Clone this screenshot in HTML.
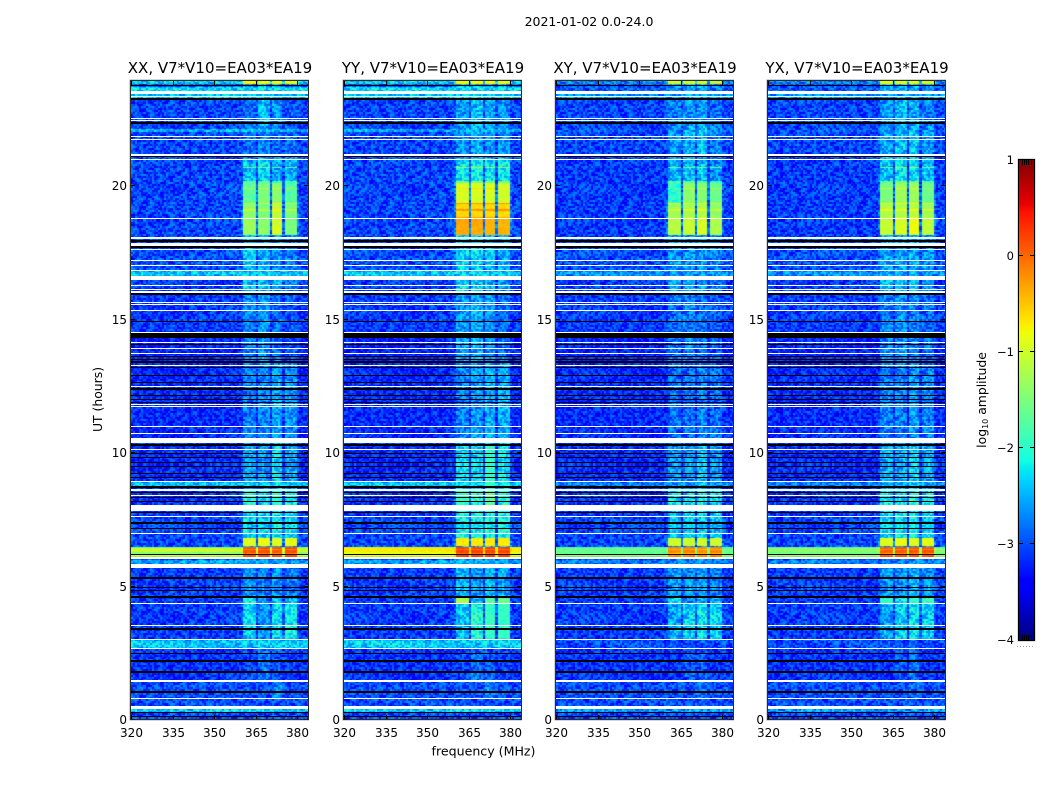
<!DOCTYPE html>
<html lang="en">
<head>
<meta charset="utf-8">
<title>2021-01-02 0.0-24.0</title>
<style>
html,body{margin:0;padding:0;background:#fff;}
#figure{position:relative;width:1050px;height:800px;overflow:hidden;background:#fff;font-family:"DejaVu Sans","Liberation Sans",sans-serif;}
#figure canvas{position:absolute;display:block;}
#overlay{position:absolute;left:0;top:0;}
#overlay text{font-family:"DejaVu Sans","Liberation Sans",sans-serif;fill:#000;}
</style>
</head>
<body>
<div id="figure">
<svg id="overlay" width="1050" height="800" viewBox="0 0 1050 800" xmlns="http://www.w3.org/2000/svg">
  <text x="589" y="26" text-anchor="middle" font-size="12.5">2021-01-02 0.0-24.0</text>
  <text x="483.5" y="755.5" text-anchor="middle" font-size="12.6">frequency (MHz)</text>
  <text transform="translate(102,399.5) rotate(-90)" text-anchor="middle" font-size="12.4">UT (hours)</text>
  <text transform="translate(986,400) rotate(-90)" text-anchor="middle" font-size="12.4">log<tspan font-size="8" dy="2">10</tspan><tspan dy="-2"> amplitude</tspan></text>
</svg>
</div>
<script>
// ---- Chart data ----
const panelNames = ['XX', 'YY', 'XY', 'YX'];
const panelTitles = ['XX, V7*V10=EA03*EA19', 'YY, V7*V10=EA03*EA19', 'XY, V7*V10=EA03*EA19', 'YX, V7*V10=EA03*EA19'];
const xTicks = [320, 335, 350, 365, 380];
const yTicks = [0, 5, 10, 15, 20];
const colorbarTicks = [1, 0, -1, -2, -3, -4];

// Background level (log10 amplitude) by time band, hours.
const bandStart = [0, 0.27, 0.37, 1.4, 2.66, 2.96, 5.66, 5.81, 5.95, 6.07, 6.17, 6.27, 6.40, 6.46, 7.6, 8.73, 8.88, 10.34, 10.51, 13.3, 14.5, 16.59, 16.78, 17.6, 18.05, 21.0, 21.97, 22.1, 23.2, 23.52, 23.67, 23.78];
const bandEnd = [0.27, 0.37, 1.4, 2.66, 2.96, 5.66, 5.81, 5.95, 6.07, 6.17, 6.27, 6.40, 6.46, 7.6, 8.73, 8.88, 10.34, 10.51, 13.3, 14.5, 16.59, 16.78, 17.6, 18.05, 21.0, 21.97, 22.1, 23.2, 23.52, 23.67, 23.78, 23.95];
const bandLevelXX = [-3.05, -2.3, -3.0, -3.15, -2.4, -3.1, -3.0, -2.55, -3.0, -1.05, -1.5, -1.0, -1.6, -3.05, -3.15, -2.4, -3.2, -2.65, -3.2, -3.25, -3.1, -2.4, -3.0, -3.05, -3.05, -3.05, -2.5, -3.05, -2.4, -2.3, -3.0, -2.4];
const bandLevelYY = [-3.05, -2.3, -3.0, -3.15, -2.35, -3.1, -3.0, -2.55, -3.0, -0.8, -0.9, -0.7, -1.0, -3.05, -3.15, -2.35, -3.2, -2.65, -3.2, -3.25, -3.1, -2.4, -3.0, -3.05, -3.05, -3.05, -2.55, -3.05, -2.4, -2.3, -3.0, -2.4];
const bandLevelXY = [-3.05, -2.6, -3.0, -3.15, -3.0, -3.1, -3.0, -2.75, -3.0, -1.4, -1.7, -1.6, -1.8, -3.05, -3.15, -2.75, -3.2, -2.85, -3.2, -3.25, -3.1, -2.65, -3.0, -3.05, -3.1, -3.05, -2.95, -3.05, -2.65, -2.95, -3.0, -2.75];
const bandLevelYX = [-3.05, -2.6, -3.0, -3.15, -3.0, -3.1, -3.0, -2.75, -3.0, -1.3, -1.6, -1.4, -1.7, -3.05, -3.15, -2.75, -3.2, -2.85, -3.2, -3.25, -3.1, -2.65, -3.0, -3.05, -3.1, -3.05, -2.95, -3.05, -2.65, -2.95, -3.0, -2.75];

// The four bright sub-bands, MHz.
const blockStart = [360.6, 365.9, 370.9, 375.7];
const blockEnd = [364.9, 370.3, 375.0, 380.0];

// Sub-band levels per time segment: one [b1,b2,b3,b4] row per segment start (hours).
const signalStart = [0, 0.75, 1.4, 2.66, 3.0, 4.3, 4.55, 5.7, 6.0, 6.46, 6.5, 6.78, 7.9, 8.6, 10.3, 13.3, 15.9, 16.6, 18.1, 18.8, 19.3, 20.05, 21.0, 22.2, 23.3, 23.78];
const signalXX = [
  [-3.05, -3.05, -3.0, -3.05], [-3.2, -3.0, -2.7, -3.0], [-3.05, -2.85, -2.95, -3.1], [-2.8, -2.8, -2.75, -2.8],
  [-2.35, -2.65, -2.25, -2.15], [-2.1, -2.7, -2.45, -2.45], [-2.65, -2.75, -2.65, -2.75], [-2.75, -2.75, -2.75, -2.75],
  [0.1, 0.15, 0.1, 0.15], [-2.6, -2.6, -2.6, -2.6], [-0.9, -0.8, -0.9, -0.85], [-2.3, -2.4, -2.2, -2.3], [-2.1, -2.3, -2.0, -2.2],
  [-2.55, -2.65, -2.3, -2.55], [-2.8, -2.75, -2.55, -2.65], [-2.75, -2.65, -2.85, -2.95], [-2.4, -2.5, -2.55, -2.75],
  [-2.45, -2.55, -2.65, -2.75], [-1.3, -1.4, -0.95, -1.5], [-1.4, -1.5, -1.1, -1.5], [-1.7, -1.5, -1.4, -1.7],
  [-2.45, -2.35, -2.55, -2.55], [-2.85, -2.75, -2.85, -2.85], [-2.85, -2.45, -2.65, -2.95], [-2.75, -2.55, -2.65, -2.85],
  [-0.8, -0.9, -0.9, -0.9]
];
const signalYY = [
  [-3.05, -3.05, -3.0, -3.05], [-3.15, -3.05, -2.75, -2.95], [-3.05, -2.85, -2.95, -3.1], [-2.75, -2.75, -2.75, -2.75],
  [-2.45, -2.05, -1.95, -1.95], [-1.2, -2.55, -1.7, -1.6], [-2.55, -2.65, -2.45, -2.55], [-2.65, -2.65, -2.65, -2.65],
  [0.2, 0.2, 0.2, 0.2], [-2.5, -2.5, -2.5, -2.5], [-0.7, -0.7, -0.7, -0.7], [-2.15, -2.15, -2.05, -2.15], [-1.95, -2.05, -1.7, -2.05],
  [-2.35, -2.35, -1.95, -2.25], [-2.75, -2.65, -2.55, -2.55], [-2.65, -2.55, -2.65, -2.85], [-2.25, -2.35, -2.45, -2.65],
  [-2.35, -2.35, -2.45, -2.55], [-0.35, -0.35, -0.4, -0.4], [-0.6, -0.6, -0.6, -0.6], [-0.95, -0.95, -0.95, -1.0],
  [-2.25, -2.15, -2.25, -2.25], [-2.65, -2.55, -2.65, -2.65], [-2.65, -2.45, -2.55, -2.65], [-2.55, -2.45, -2.55, -2.65],
  [-0.8, -0.8, -0.8, -0.9]
];
const signalXY = [
  [-3.05, -3.05, -3.0, -3.05], [-3.15, -3.05, -2.85, -3.05], [-3.15, -2.95, -2.95, -3.15], [-3.05, -3.05, -2.95, -3.05],
  [-2.55, -2.35, -2.25, -2.35], [-2.25, -2.65, -2.55, -2.55], [-2.65, -2.65, -2.65, -2.75], [-2.75, -2.75, -2.75, -2.85],
  [-0.2, -0.15, -0.2, -0.15], [-2.7, -2.7, -2.7, -2.7], [-1.0, -1.0, -1.0, -1.0], [-2.45, -2.35, -2.35, -2.45], [-2.25, -2.35, -2.15, -2.35],
  [-2.65, -2.65, -2.45, -2.65], [-2.85, -2.85, -2.75, -2.85], [-2.85, -2.75, -2.85, -2.95], [-2.55, -2.55, -2.55, -2.75],
  [-2.65, -2.65, -2.65, -2.75], [-1.15, -1.05, -0.95, -1.2], [-1.3, -1.25, -1.2, -1.4], [-2.0, -1.4, -1.45, -1.6],
  [-2.55, -2.45, -2.45, -2.65], [-2.65, -2.55, -2.45, -2.75], [-2.75, -2.65, -2.65, -2.85], [-2.65, -2.55, -2.55, -2.75],
  [-1.0, -1.0, -1.0, -1.1]
];
const signalYX = [
  [-3.05, -3.05, -3.0, -3.05], [-3.15, -3.05, -2.85, -3.05], [-3.15, -2.95, -2.85, -3.15], [-3.05, -3.05, -2.95, -3.05],
  [-2.55, -2.35, -2.25, -2.35], [-2.0, -2.2, -1.95, -1.85], [-2.65, -2.65, -2.55, -2.65], [-2.75, -2.75, -2.65, -2.75],
  [0.05, 0.1, 0.1, 0.1], [-2.6, -2.6, -2.6, -2.6], [-0.9, -0.85, -0.9, -0.85], [-2.35, -2.25, -2.25, -2.35], [-2.15, -2.25, -2.05, -2.25],
  [-2.55, -2.55, -2.35, -2.55], [-2.75, -2.75, -2.65, -2.75], [-2.75, -2.65, -2.75, -2.85], [-2.45, -2.45, -2.45, -2.65],
  [-2.55, -2.55, -2.55, -2.65], [-1.05, -0.95, -0.8, -1.1], [-1.2, -1.2, -1.15, -1.3], [-1.5, -1.3, -1.3, -1.6],
  [-2.45, -2.25, -2.35, -2.45], [-2.55, -2.45, -2.45, -2.65], [-2.65, -2.45, -2.55, -2.75], [-2.55, -2.55, -2.55, -2.65],
  [-0.9, -0.9, -0.9, -1.0]
];

// Thin scans in the sub-bands that sit above or below their neighbours.
const spikeHours = [20.65, 20.1, 19.85, 19.3, 19.05, 6.35, 6.2];
const spikeGain = [0.9, 0.7, 0.3, 0.35, 0.35, -0.25, -0.25];

// Per-pixel noise offsets, tiled across the cells (stands in for unresolved scatter).
const noiseOffsets = [0.12, -0.31, 0.27, -0.08, 0.35, -0.22, 0.04, -0.37, 0.19, 0.31, -0.14, -0.27, 0.09, 0.38, -0.05, -0.33, 0.23, -0.18, 0.14, 0.29, -0.39, 0.02, -0.24, 0.33, -0.11, 0.17, -0.29, 0.07, 0.26, -0.35, -0.02, 0.21, -0.16, 0.36, -0.26, 0.11, -0.07, 0.3, -0.34, 0.16, -0.2, 0.05, 0.28, -0.12, -0.38, 0.24, 0.0, -0.23, 0.34, -0.09, 0.13, -0.3, 0.2, -0.17, 0.37, -0.04, -0.28, 0.1, 0.25, -0.36, 0.06];

// Flagged time ranges (white, no data), hours.
const whiteStart = [23.39, 23.30, 22.47, 22.40, 21.80, 21.69, 21.09, 20.94, 18.71, 17.99, 17.72, 17.57, 17.15, 16.97, 16.78, 16.44, 16.22, 16.07, 15.96, 15.58, 15.52, 15.28, 14.46, 14.08, 13.86, 13.67, 13.22, 12.43, 11.76, 11.69, 10.94, 10.67, 10.34, 10.07, 8.88, 8.54, 8.35, 7.79, 7.57, 6.93, 5.99, 5.66, 4.31, 3.48, 2.96, 2.62, 1.39, 0.75, 0.37];
const whiteEnd = [23.52, 23.33, 22.51, 22.43, 21.84, 21.72, 21.16, 20.97, 18.76, 18.05, 17.83, 17.60, 17.19, 17.00, 16.82, 16.59, 16.25, 16.10, 16.03, 15.62, 15.56, 15.32, 14.49, 14.12, 13.90, 13.71, 13.26, 12.47, 11.80, 11.72, 10.97, 10.71, 10.51, 10.11, 8.91, 8.61, 8.39, 8.01, 7.60, 6.97, 6.07, 5.81, 4.34, 3.52, 3.00, 2.66, 1.46, 0.79, 0.49];
// Dropped scans (black), hours.
const blackStart = [23.69, 23.20, 22.28, 21.05, 17.88, 17.64, 15.88, 14.87, 14.27, 14.01, 13.54, 13.46, 13.35, 13.16, 12.86, 12.60, 12.34, 12.08, 11.93, 11.82, 10.22, 9.94, 9.76, 9.57, 9.42, 9.16, 9.04, 8.67, 8.48, 8.26, 8.14, 7.70, 7.32, 7.13, 6.13, 6.03, 5.26, 4.92, 4.81, 4.55, 3.35, 2.45, 2.13, 1.72, 0.99, 0.24, 0.09];
const blackEnd = [23.76, 23.26, 22.36, 21.07, 17.94, 17.72, 15.96, 14.91, 14.46, 14.04, 13.58, 13.50, 13.39, 13.20, 12.90, 12.64, 12.38, 12.12, 11.97, 11.86, 10.30, 9.98, 9.80, 9.61, 9.46, 9.20, 9.08, 8.71, 8.52, 8.30, 8.18, 7.74, 7.36, 7.17, 6.17, 6.07, 5.30, 4.96, 4.85, 4.59, 3.39, 2.49, 2.21, 1.80, 1.03, 0.28, 0.13];

const bandLevels = [bandLevelXX, bandLevelYY, bandLevelXY, bandLevelYX];
const signalLevels = [signalXX, signalYY, signalXY, signalYX];

// ---- Layout and scales ----
const panelLeft = [131, 344, 556, 768];
const panelWidth = 177;
const plotTop = 81;
const plotBottom = 719;
const pxPerMHz = 2.767;
const pxPerHour = 26.7;
const cellMHz = 0.75;
const cellHours = 0.0375;
const cbar = {left: 1019, right: 1034, top: 160, bottom: 640, min: -4, max: 1};
const SVGNS = 'http://www.w3.org/2000/svg';
const figure = document.getElementById('figure');
const overlay = document.getElementById('overlay');

function xScale(panel, mhz) { return panelLeft[panel] + (mhz - 320) * pxPerMHz; }
function yScale(hour) { return plotBottom - hour * pxPerHour; }
function cbarScale(v) { return cbar.bottom - (v - cbar.min) / (cbar.max - cbar.min) * (cbar.bottom - cbar.top); }

function ramp(t, pts) {
  for (let i = 1; i < pts.length; i++) {
    if (t <= pts[i][0]) {
      const a = pts[i - 1], b = pts[i];
      return a[1] + (b[1] - a[1]) * (t - a[0]) / (b[0] - a[0]);
    }
  }
  return pts[pts.length - 1][1];
}
function jet(v) {
  const t = Math.max(0, Math.min(1, (v - cbar.min) / (cbar.max - cbar.min)));
  const r = ramp(t, [[0, 0], [0.35, 0], [0.66, 1], [0.89, 1], [1, 0.5]]);
  const g = ramp(t, [[0, 0], [0.125, 0], [0.375, 1], [0.64, 1], [0.91, 0], [1, 0]]);
  const b = ramp(t, [[0, 0.5], [0.11, 1], [0.34, 1], [0.65, 0], [1, 0]]);
  return 'rgb(' + Math.round(r * 255) + ',' + Math.round(g * 255) + ',' + Math.round(b * 255) + ')';
}

function backgroundAt(panel, hour) {
  for (let i = 0; i < bandStart.length; i++) {
    if (hour >= bandStart[i] && hour < bandEnd[i]) return bandLevels[panel][i];
  }
  return -3.1;
}
function signalAt(panel, hour, block) {
  let seg = 0;
  for (let i = 0; i < signalStart.length; i++) {
    if (hour >= signalStart[i]) seg = i;
  }
  let level = signalLevels[panel][seg][block];
  for (let i = 0; i < spikeHours.length; i++) {
    if (Math.abs(hour - spikeHours[i]) < 0.03) level += spikeGain[i];
  }
  return level;
}
function blockAt(mhz) {
  for (let i = 0; i < blockStart.length; i++) {
    if (mhz >= blockStart[i] && mhz < blockEnd[i]) return i;
  }
  return -1;
}
function nearestBlock(mhz) {
  let best = -1;
  for (let i = 0; i < blockStart.length; i++) {
    if (mhz >= blockStart[i] - 1 && mhz < blockEnd[i] + 1) best = i;
  }
  return best;
}
function cellValue(panel, hour, mhz) {
  const bg = backgroundAt(panel, hour);
  const block = blockAt(mhz);
  if (block >= 0) return Math.max(bg, signalAt(panel, hour, block));
  const near = nearestBlock(mhz);
  if (near >= 0) {
    const s = signalAt(panel, hour, near);
    return s > bg ? bg + (s - bg) * 0.12 : bg;
  }
  return bg;
}

function drawPanelImage(panel) {
  const canvas = document.createElement('canvas');
  
  
  canvas.width = panelWidth;
  canvas.height = plotBottom - plotTop;
  canvas.style.left = panelLeft[panel] + 'px';
  canvas.style.top = plotTop + 'px';
  figure.insertBefore(canvas, overlay);
  const ctx = canvas.getContext('2d');
  const rows = Math.ceil(23.9 / cellHours);
  const cols = Math.ceil(64 / cellMHz);
  for (let r = 0; r < rows; r++) {
    const hour = (r + 0.5) * cellHours;
    const y1 = Math.round(yScale(r * cellHours)) - plotTop;
    const y0 = Math.round(yScale((r + 1) * cellHours)) - plotTop;
    const grain = Math.floor(r / 2);
    for (let c = 0; c < cols; c++) {
      const mhz = 320 + c * cellMHz;
      const x0 = Math.round(xScale(panel, mhz)) - panelLeft[panel];
      const x1 = Math.round(xScale(panel, mhz + cellMHz)) - panelLeft[panel];
      const base = cellValue(panel, hour, mhz + cellMHz / 2);
      const idx = (c * 37 + grain * grain * 13 + grain * 5 + panel * 7) % noiseOffsets.length;
      const scale = base < -2.0 ? 1 : (base < -1.6 ? 0.5 : 0.15);
      ctx.fillStyle = jet(base + noiseOffsets[idx] * scale);
      ctx.fillRect(x0, y0, x1 - x0, Math.max(1, y1 - y0));
    }
  }
}

function makeRect(parent, x, y, w, h, fill) {
  const el = document.createElementNS(SVGNS, 'rect');
  el.setAttribute('x', x);
  el.setAttribute('y', y);
  el.setAttribute('width', w);
  el.setAttribute('height', h);
  el.setAttribute('fill', fill);
  parent.appendChild(el);
  return el;
}
function makeLine(parent, x1, y1, x2, y2, stroke, width) {
  const el = document.createElementNS(SVGNS, 'line');
  el.setAttribute('x1', x1);
  el.setAttribute('y1', y1);
  el.setAttribute('x2', x2);
  el.setAttribute('y2', y2);
  el.setAttribute('stroke', stroke);
  el.setAttribute('stroke-width', width);
  parent.appendChild(el);
  return el;
}
function makeText(parent, x, y, str, anchor, size) {
  const el = document.createElementNS(SVGNS, 'text');
  el.setAttribute('x', x);
  el.setAttribute('y', y);
  el.setAttribute('text-anchor', anchor);
  el.setAttribute('font-size', size);
  el.textContent = str;
  parent.appendChild(el);
  return el;
}

function drawFlags(group, panel) {
  const left = panelLeft[panel];
  for (let i = 0; i < blackStart.length; i++) {
    const y0 = Math.round(yScale(blackEnd[i]));
    const y1 = Math.round(yScale(blackStart[i]));
    const el = makeRect(group, left, y0, panelWidth, Math.max(1, y1 - y0), '#000');
    
    
  }
  for (let i = 0; i < whiteStart.length; i++) {
    const y0 = Math.round(yScale(whiteEnd[i]));
    const y1 = Math.round(yScale(whiteStart[i]));
    const el = makeRect(group, left, y0, panelWidth, Math.max(1, y1 - y0), '#fff');
    
    
  }
}

function drawAxes(group, panel) {
  const left = panelLeft[panel];
  const right = left + panelWidth;
  xTicks.forEach(function (t) {
    const x = Math.round(xScale(panel, t)) + 0.5;
    const bottomTick = makeLine(group, x, plotBottom, x, plotBottom - 4, '#000', 1);
    
    
    const topTick = makeLine(group, x, plotTop, x, plotTop + 4, '#000', 1);
    
    
    const label = makeText(group, x, 737, String(t), 'middle', 12);
    
    
  });
  yTicks.forEach(function (t) {
    const y = Math.round(yScale(t)) + 0.5;
    const leftTick = makeLine(group, left, y, left + 4, y, '#000', 1);
    
    
    const rightTick = makeLine(group, right, y, right - 4, y, '#000', 1);
    
    
    const label = makeText(group, left - 4, y + 4.5, String(t), 'end', 12);
    
    
  });
  const outer = makeRect(group, left - 1, plotTop - 1, panelWidth + 1.5, plotBottom - plotTop + 2, 'none');
  outer.setAttribute('stroke', '#a8a8a8');
  outer.setAttribute('stroke-width', 1);
  
  
  const frame = makeRect(group, left - 0.5, plotTop - 0.5, panelWidth + 1, plotBottom - plotTop + 1, 'none');
  frame.setAttribute('stroke', '#1a1a1a');
  frame.setAttribute('stroke-width', 0.9);
  
  
  const title = makeText(group, (left + right) / 2 + 0.5, 73, panelTitles[panel], 'middle', 15);
  
  
}

function drawColorbar() {
  const canvas = document.createElement('canvas');
  
  
  canvas.width = cbar.right - cbar.left;
  canvas.height = cbar.bottom - cbar.top;
  canvas.style.left = cbar.left + 'px';
  canvas.style.top = cbar.top + 'px';
  figure.insertBefore(canvas, overlay);
  const ctx = canvas.getContext('2d');
  for (let y = 0; y < canvas.height; y++) {
    const v = cbar.max - (y + 0.5) / canvas.height * (cbar.max - cbar.min);
    ctx.fillStyle = jet(v);
    ctx.fillRect(0, y, canvas.width, 1);
  }
  const g = document.createElementNS(SVGNS, 'g');
  
  
  overlay.appendChild(g);
  colorbarTicks.forEach(function (t) {
    const y = Math.round(cbarScale(t)) - 0.5;
    if (t !== cbar.max && t !== cbar.min) {
      const tl = makeLine(g, cbar.left, y, cbar.left + 4, y, '#000', 1);
      
      
      const tr = makeLine(g, cbar.right, y, cbar.right - 4, y, '#000', 1);
      
      
    }
    const label = makeText(g, cbar.left - 5, Math.round(cbarScale(t)) + 4, t < 0 ? '\u2212' + Math.abs(t) : String(t), 'end', 11.5);
    
    
  });
  [1022.5, 1024.5, 1026.5, 1028.5, 1031.5].forEach(function (x) {
    const a = makeLine(g, x, cbar.top, x, cbar.top + 5, '#000', 1);
    
    
    const b = makeLine(g, x, cbar.bottom, x, cbar.bottom - 5, '#000', 1);
    
    
  });
  const halo = makeRect(g, cbar.left - 1, cbar.top - 1, cbar.right - cbar.left + 2, cbar.bottom - cbar.top + 2, 'none');
  halo.setAttribute('stroke', '#b8b8b8');
  halo.setAttribute('stroke-width', 1);
  
  
  const frame = makeRect(g, cbar.left - 0.5, cbar.top - 0.5, cbar.right - cbar.left + 1, cbar.bottom - cbar.top + 1, 'none');
  frame.setAttribute('stroke', '#000');
  frame.setAttribute('stroke-width', 1);
  
  
  const dots = makeLine(g, 1017, 646.5, 1035, 646.5, '#999', 1);
  dots.setAttribute('stroke-dasharray', '1 2');
  
  
}

panelNames.forEach(function (name, panel) {
  drawPanelImage(panel);
  const group = document.createElementNS(SVGNS, 'g');
  
  
  overlay.appendChild(group);
  drawFlags(group, panel);
  drawAxes(group, panel);
});
drawColorbar();
</script>
</body>
</html>
